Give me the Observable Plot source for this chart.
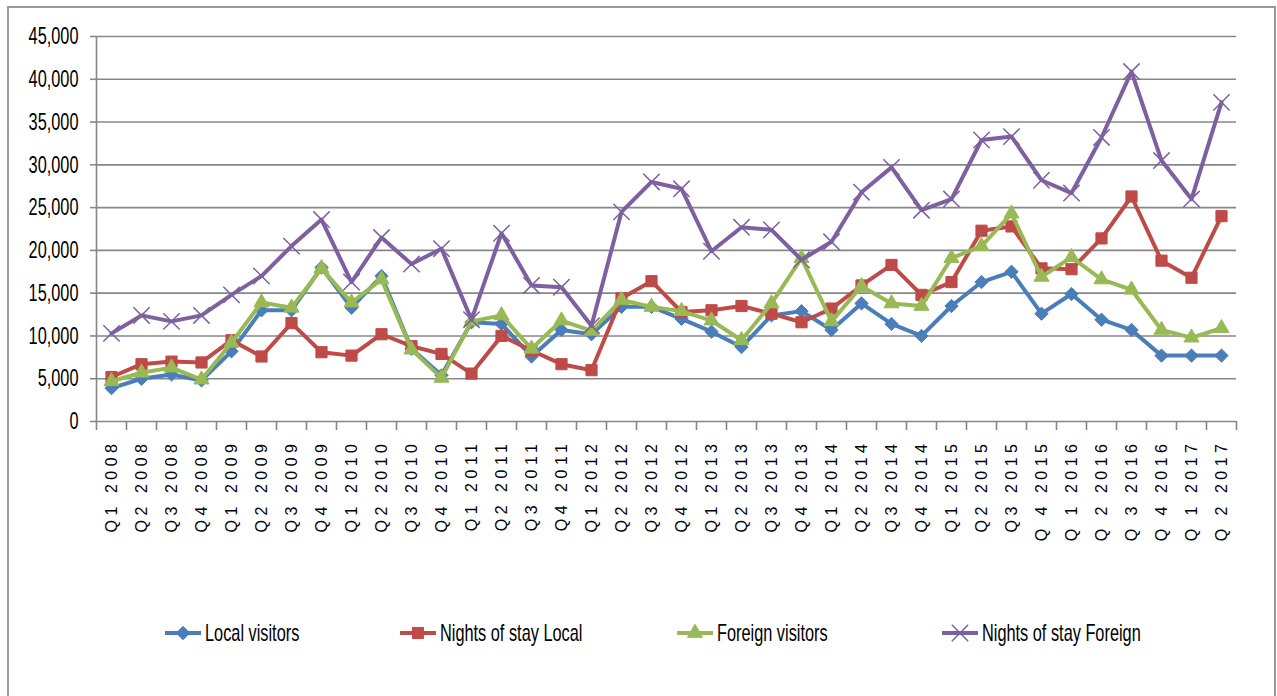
<!DOCTYPE html>
<html>
<head>
<meta charset="utf-8">
<script src="https://cdn.jsdelivr.net/npm/d3@7"></script>
<script src="https://cdn.jsdelivr.net/npm/@observablehq/plot@0.6"></script>
<style>
  html, body { margin: 0; padding: 0; background: #fff; overflow: hidden; }
  #wrap { position: relative; width: 1277px; height: 696px; }
  #frame { position: absolute; left: 7px; top: 6px; width: 1265px; height: 720px; border: 2px solid #9a9a9a; pointer-events: none; }
  #chart svg { display: block; }
  g[aria-label="x-axis tick label"] text { letter-spacing: 4.5px; }
  #legend { position: relative; height: 40px; margin-top: 58px; font-family: "Liberation Sans", Arial, sans-serif; font-size: 24px; color: #000; }
  .item { position: absolute; top: 0; display: flex; align-items: center; height: 30px; }
  .item svg { display: block; margin-right: 4px; }
  .item span { display: inline-block; transform: scaleX(0.68); transform-origin: 0 50%; white-space: nowrap; }
</style>
</head>
<body>
<div id="wrap">
  <div id="chart"></div>
  <div id="legend"></div>
  <div id="frame"></div>
</div>
<script>
const quarters = ["Q1 2008","Q2 2008","Q3 2008","Q4 2008","Q1 2009","Q2 2009","Q3 2009","Q4 2009",
  "Q1 2010","Q2 2010","Q3 2010","Q4 2010","Q1 2011","Q2 2011","Q3 2011","Q4 2011",
  "Q1 2012","Q2 2012","Q3 2012","Q4 2012","Q1 2013","Q2 2013","Q3 2013","Q4 2013",
  "Q1 2014","Q2 2014","Q3 2014","Q4 2014","Q1 2015","Q2 2015","Q3 2015","Q 4 2015",
  "Q 1 2016","Q 2 2016","Q 3 2016","Q 4 2016","Q 1 2017","Q 2 2017"];

const localVisitors = [3900,5000,5500,4800,8200,13000,13000,18000,13300,17000,8500,5400,
  11600,11400,7600,10700,10200,13400,13400,12000,10500,8700,12400,12900,
  10700,13800,11400,10000,13500,16300,17500,12600,14900,11900,10700,7700,7700,7700];
const nightsLocal = [5200,6700,7000,6900,9500,7600,11500,8100,7700,10200,8800,7900,
  5600,10000,8300,6700,6000,14400,16400,12800,13000,13500,12600,11600,
  13200,15900,18300,14800,16300,22300,22800,17900,17800,21400,26300,18800,16800,24000];
const foreignVisitors = [4700,5700,6300,4900,9200,13900,13300,17900,13900,16600,8400,5100,
  11700,12400,8500,11800,10600,14200,13400,12900,11800,9500,13800,19100,
  11700,15800,13800,13500,19100,20500,24300,16900,19200,16600,15400,10700,9800,10900];
const nightsForeign = [10300,12400,11700,12400,14800,17000,20500,23600,16300,21500,18400,20200,
  11900,22000,15900,15700,11200,24500,28000,27200,19900,22700,22400,18900,
  21000,26800,29700,24700,26000,32900,33300,28200,26700,33200,40900,30500,26000,37300];

const seriesNames = ["Local visitors","Nights of stay Local","Foreign visitors","Nights of stay Foreign"];
const seriesValues = [localVisitors, nightsLocal, foreignVisitors, nightsForeign];
const seriesColors = ["#4A7EBB","#BE4B48","#98B954","#7D60A0"];
const seriesSymbols = ["diamond2","square","triangle","times"];
const yTicks = [0,5000,10000,15000,20000,25000,30000,35000,40000,45000];

const dotStyle = [
  {r: 6, strokeWidth: 1},
  {r: 6.3, strokeWidth: 1},
  {r: 5.6, strokeWidth: 1},
  {r: 7.5, strokeWidth: 1.5}
];

const seriesMarks = seriesNames.flatMap((name, k) => {
  const rows = seriesValues[k].map((v, i) => ({i, v, s: name}));
  const filled = seriesSymbols[k] !== "times";
  return [
    Plot.line(rows, {x: "i", y: "v", stroke: seriesColors[k], strokeWidth: 4, strokeLinejoin: "round"}),
    Plot.dot(rows, {x: "i", y: "v", symbol: seriesSymbols[k], r: dotStyle[k].r,
      fill: filled ? seriesColors[k] : "none", stroke: seriesColors[k], strokeWidth: dotStyle[k].strokeWidth})
  ];
});

const boundaries = d3.range(quarters.length + 1).map(k => k - 0.5);

const chart = Plot.plot({
  width: 1277,
  height: 560,
  marginLeft: 96,
  marginRight: 41,
  marginTop: 36,
  marginBottom: 139,
  style: {background: "#fff", fontFamily: "'Liberation Sans', Arial, sans-serif"},
  x: {type: "linear", domain: [-0.5, quarters.length - 0.5]},
  y: {domain: [0, 45000]},
  marks: [
    Plot.gridY(yTicks, {stroke: "#878787", strokeOpacity: 1, strokeWidth: 1.6}),
    Plot.ruleX([-0.5], {stroke: "#878787", strokeWidth: 1.6}),
    Plot.axisY(yTicks, {tickSize: 6, tickPadding: 12, stroke: "#878787", strokeWidth: 1.6,
      tickFormat: d3.format(","), fontSize: 24, fill: "#000", label: null}),
    Plot.axisX(boundaries, {tickSize: 9, stroke: "#878787", strokeWidth: 1.6, tickFormat: () => "", label: null}),
    Plot.axisX(d3.range(quarters.length), {tickSize: 0, tickPadding: 18, tickRotate: -90,
      tickFormat: i => quarters[i], fontSize: 16, fill: "#000", label: null}),
    ...seriesMarks
  ]
});
// condense the y tick labels horizontally (narrow face as in the reference)
d3.select(chart).selectAll('g[aria-label="y-axis tick label"] text').each(function() {
  const t = this.getAttribute("transform") || "";
  this.setAttribute("transform", t + " scale(0.68,1)");
});
document.getElementById("chart").appendChild(chart);

// Legend
const legendLefts = [165, 400, 677, 942];
const legend = document.getElementById("legend");
const symMap = {diamond2: d3.symbolDiamond2, square: d3.symbolSquare, triangle: d3.symbolTriangle, times: d3.symbolTimes};
seriesNames.forEach((name, k) => {
  const item = document.createElement("div");
  item.className = "item";
  item.style.left = legendLefts[k] + "px";
  const sw = d3.create("svg").attr("width", 36).attr("height", 24);
  sw.append("line").attr("x1", 0).attr("x2", 36).attr("y1", 12).attr("y2", 12)
    .attr("stroke", seriesColors[k]).attr("stroke-width", 4);
  const r = dotStyle[k].r;
  const path = d3.symbol(symMap[seriesSymbols[k]], Math.PI * r * r)();
  sw.append("path").attr("d", path).attr("transform", "translate(18,12)")
    .attr("fill", seriesSymbols[k] === "times" ? "none" : seriesColors[k])
    .attr("stroke", seriesColors[k]).attr("stroke-width", dotStyle[k].strokeWidth);
  item.appendChild(sw.node());
  const label = document.createElement("span");
  label.textContent = name;
  item.appendChild(label);
  legend.appendChild(item);
});
</script>
</body>
</html>
